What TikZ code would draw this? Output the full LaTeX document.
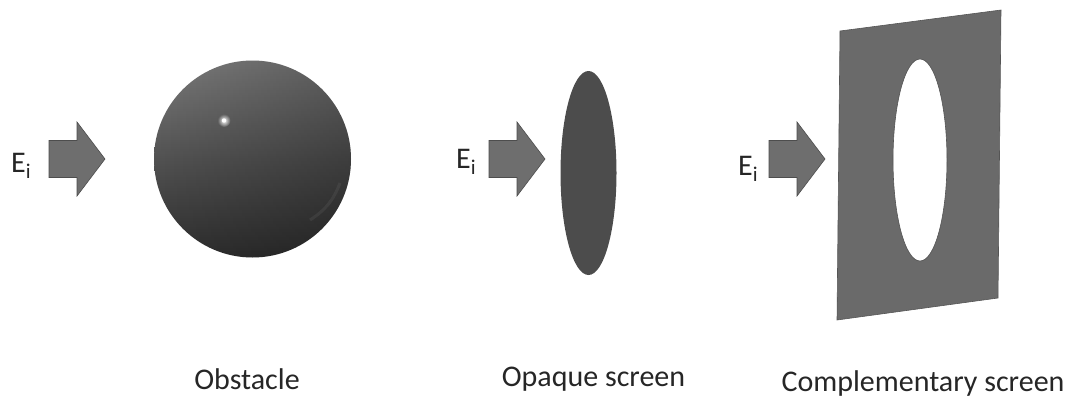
\documentclass[tikz,border=0pt]{standalone}
\usepackage{fontspec}
\setmainfont{Carlito}
\usetikzlibrary{fadings}

\definecolor{arrowgray}{HTML}{6E6E6E}
\definecolor{screengray}{HTML}{6A6A6A}
\definecolor{discgray}{HTML}{4C4C4C}
\definecolor{balltop}{HTML}{7C7C7C}
\definecolor{ballmiddle}{HTML}{525252}
\definecolor{ballbottom}{HTML}{2E2E2E}

\tikzfading[name=glint, inner color=transparent!0, outer color=transparent!100]

\tikzset{
  incident/.style={fill=arrowgray, draw=arrowgray!70!black, line width=0.6pt, line join=miter},
  caption/.style={font=\fontsize{30}{34}\selectfont, text=black!85, inner sep=0pt},
  fieldlabel/.style={font=\fontsize{30}{34}\selectfont, text=black!85, inner sep=0pt, anchor=west}
}

\begin{document}
\begin{tikzpicture}[x=1pt, y=-1pt]
  \useasboundingbox (0,0) rectangle (1070,399);

  % Points
  \coordinate (ball) at (252.5,159);
  \coordinate (disc) at (588.5,173);
  \coordinate (hole) at (920,160);
  \coordinate (S1) at (840,31);
  \coordinate (S2) at (1001,10);
  \coordinate (S3) at (998,298);
  \coordinate (S4) at (837,320);

  % Incident field arrows
  \foreach \ax/\ay/\lx/\ly in {49/159/11/166, 489/159/456/162, 769/159/738/169} {
    \draw[incident] (\ax,\ay-18.5) -- ++(28,0) -- ++(0,-18.5) -- (\ax+56,\ay)
      -- (\ax+28,\ay+37) -- ++(0,-18.5) -- (\ax,\ay+18.5) -- cycle;
    \node[fieldlabel] at (\lx,\ly) {E\textsubscript{i}};
  }

  % Sphere
  \shade[top color=balltop, bottom color=ballbottom, middle color=ballmiddle]
    (ball) circle[radius=98.5];
  \fill[black, fill opacity=0.25, path fading=west] (ball) circle[radius=98.5];
  \draw[white, opacity=0.06, line width=3pt] (340,183) to[bend left=18] (310,220);
  \fill[white, path fading=glint] (224,120.5) circle[radius=6.5];
  \fill[white] (224,120.5) circle[radius=2.2];

  % Opaque disc
  \fill[discgray] (disc) ellipse[x radius=28, y radius=102];

  % Screen with hole
  \fill[screengray, even odd rule] (S1) -- (S2) -- (S3) -- (S4) -- cycle
    (hole) ellipse[x radius=27, y radius=101];
  \draw[screengray!80!black, line width=0.6pt] (S1) -- (S2) -- (S3) -- (S4) -- cycle;
  \draw[screengray!80!black, line width=0.6pt] (hole) ellipse[x radius=27, y radius=101];

  % Labels
  \node[caption] (obstacle) at (247,379) {Obstacle};
  \node[caption] (opaque) at (593.5,379) {Opaque screen};
  \node[caption] (complementary) at (923,383) {Complementary screen};
\end{tikzpicture}
\end{document}
